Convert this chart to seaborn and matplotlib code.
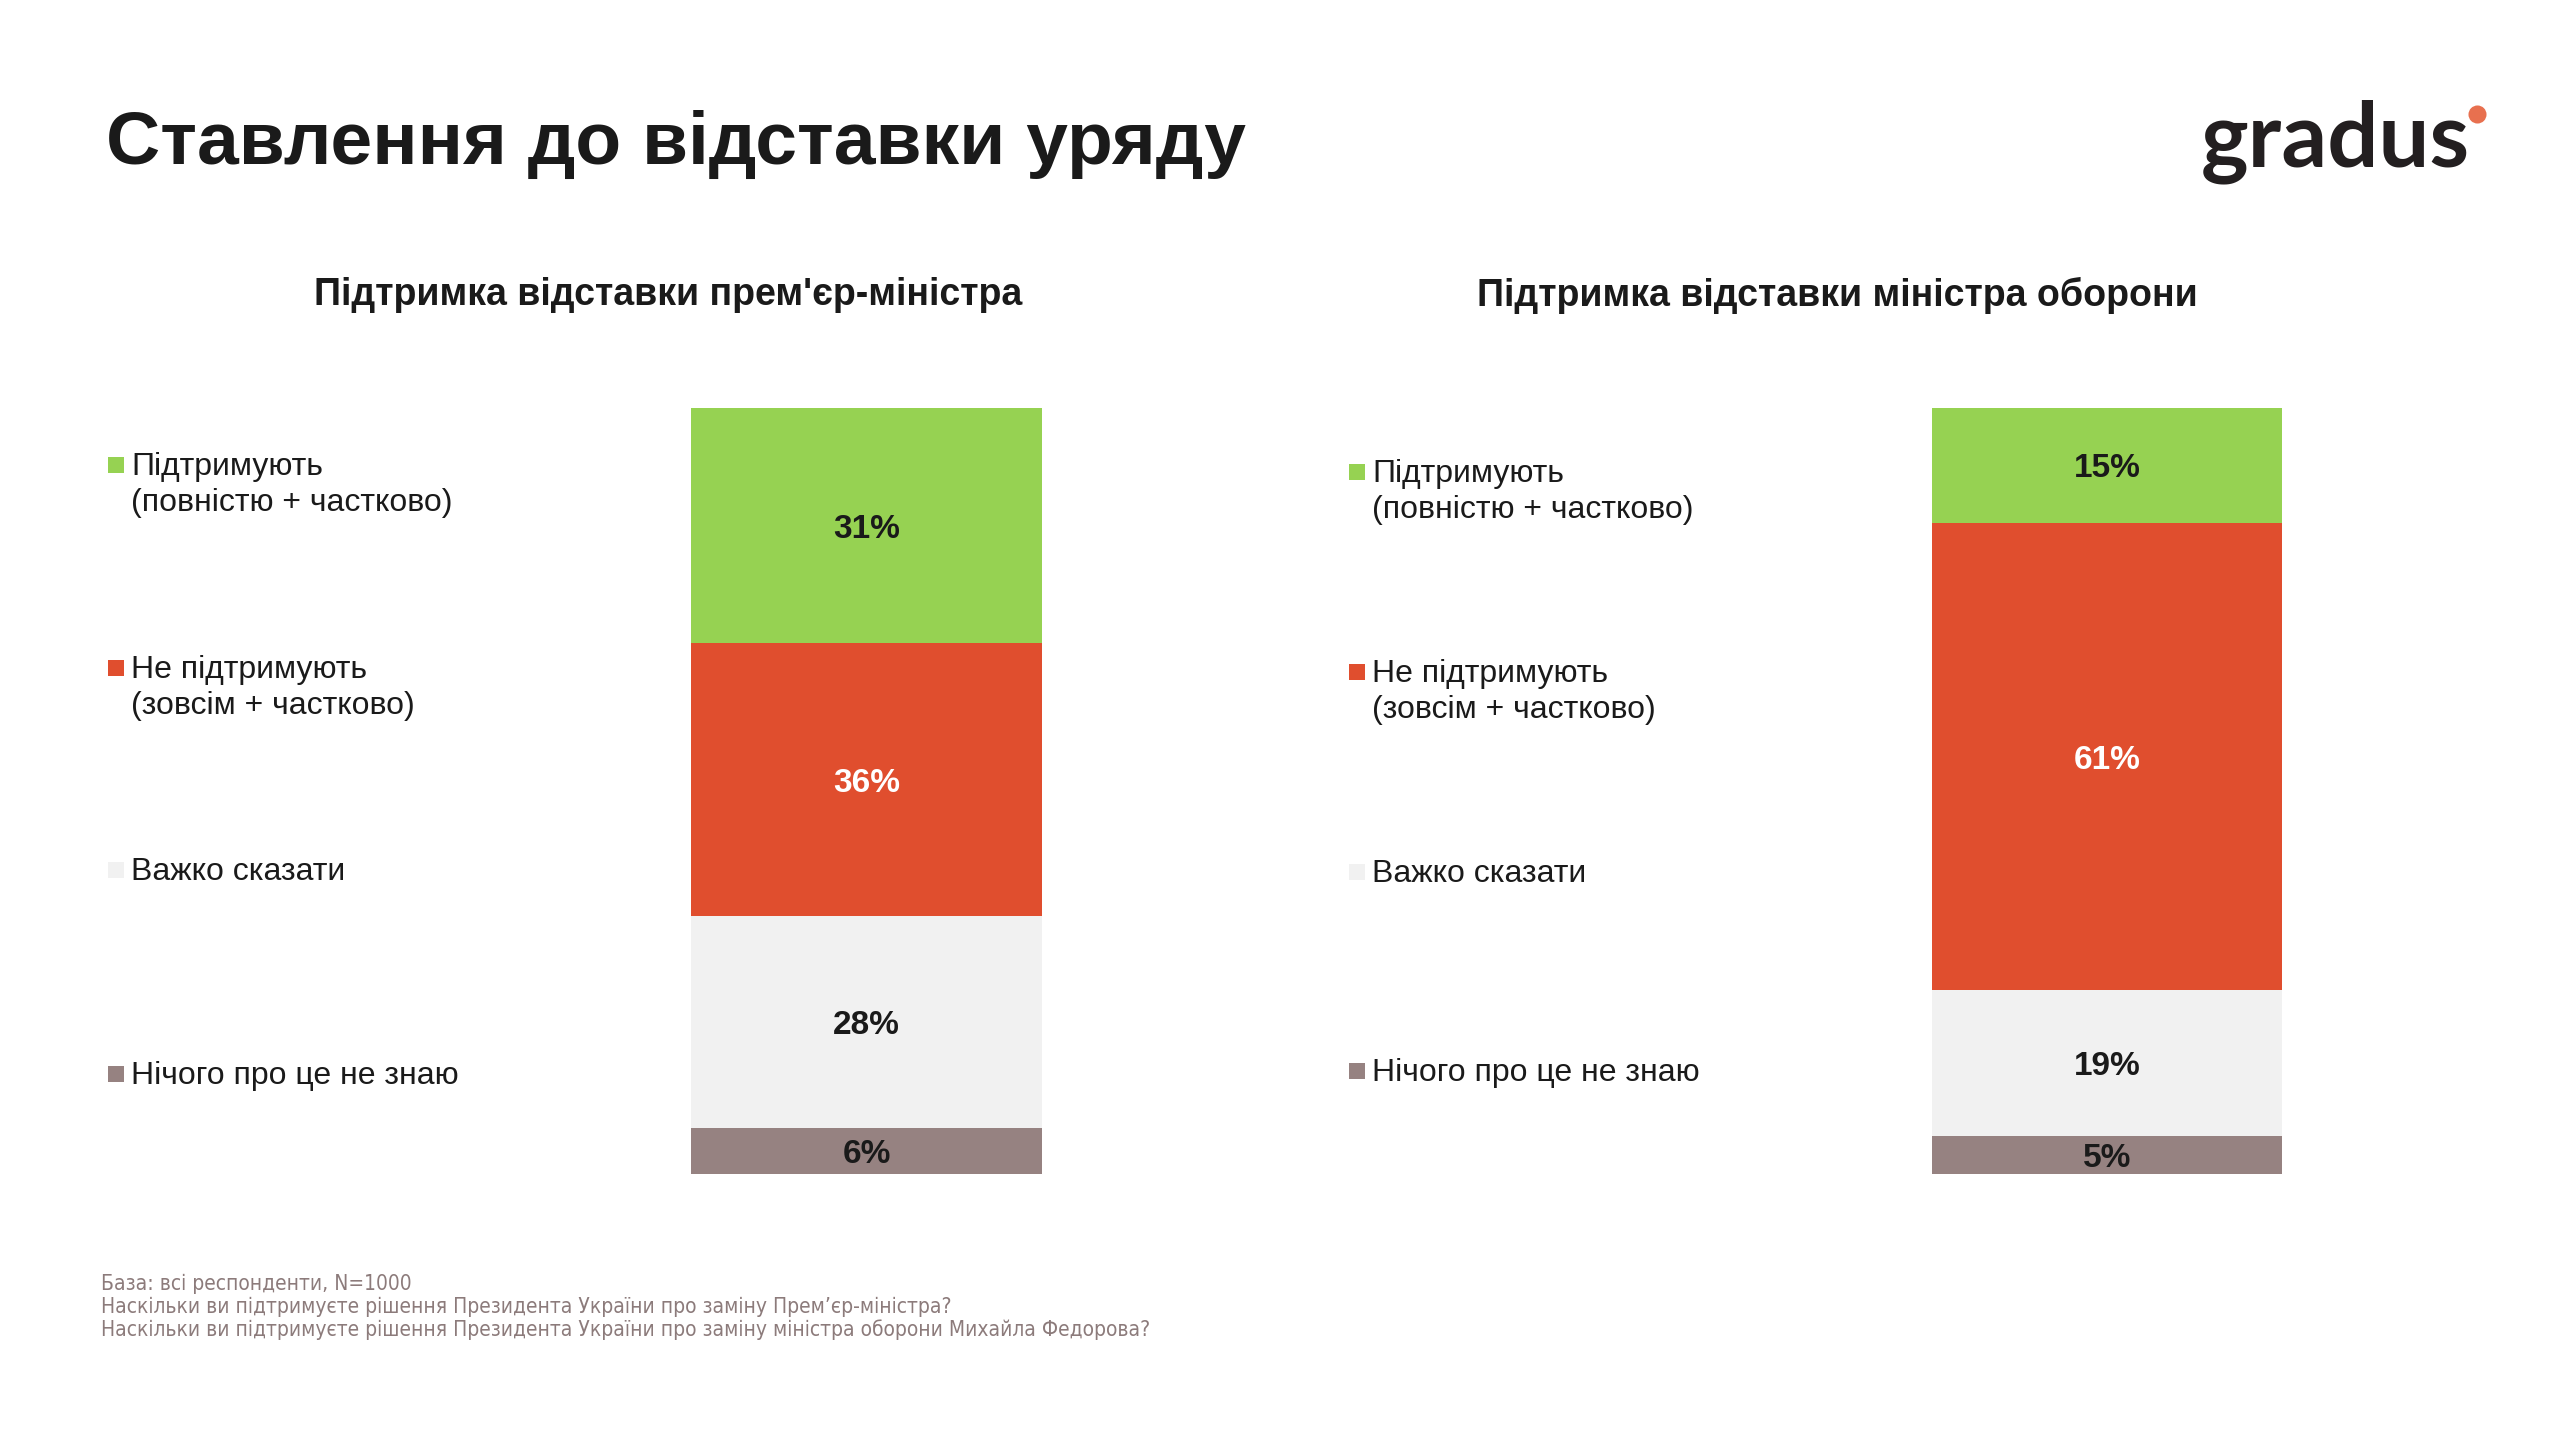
import pandas as pd
import matplotlib
matplotlib.use('Agg')
import matplotlib.pyplot as plt
import seaborn as sns
from matplotlib.patches import Rectangle
from matplotlib.lines import Line2D

sns.set_theme(style='white')
plt.rcParams['font.family'] = ['Liberation Sans', 'DejaVu Sans']

# дані
segments = ['Підтримують\n(повністю + частково)', 'Не підтримують\n(зовсім + частково)',
            'Важко сказати', 'Нічого про це не знаю']
pm_values = [31, 36, 28, 6]        # прем'єр-міністр
defense_values = [15, 61, 19, 5]   # міністр оборони
chart_titles = ["Підтримка відставки прем'єр-міністра", 'Підтримка відставки міністра оборони']
colors = ['#96D252', '#E04E2E', '#F1F1F1', '#968281']
label_colors = ['#1a1a1a', 'white', '#1a1a1a', '#1a1a1a']

title = 'Ставлення до відставки уряду'
footnotes = ['База: всі респонденти, N=1000',
             'Наскільки ви підтримуєте рішення Президента України про заміну Прем\u2019єр-міністра?',
             'Наскільки ви підтримуєте рішення Президента України про заміну міністра оборони Михайла Федорова?']

W, H = 2560, 1436
fig = plt.figure(figsize=(W / 100, H / 100), dpi=100)


def fx(px):
    return px / W


def fy(py):
    return 1 - py / H


def stacked_bar(ax, values):
    # стек знизу: останній сегмент внизу, перший зверху
    df = pd.DataFrame({'segment': segments, 'value': values, 'color': colors, 'lc': label_colors})
    df = df.iloc[::-1].reset_index(drop=True)
    df['top'] = df['value'].cumsum()
    df['mid'] = df['top'] - df['value'] / 2
    # малюємо від найвищого кумулятивного значення до найнижчого
    for _, row in df.sort_values('top', ascending=False).iterrows():
        sns.barplot(x=['bar'], y=[row['top']], color=row['color'], saturation=1,
                    width=1, linewidth=0, ax=ax)
    for _, row in df.iterrows():
        ax.text(0, row['mid'], f"{row['value']}%", ha='center', va='center_baseline',
                fontsize=24, fontweight='bold', color=row['lc'])
    ax.set_xlim(-0.5, 0.5)
    ax.set_ylim(0, df['top'].max())
    ax.axis('off')


bar_h = 1174 - 408
ax1 = fig.add_axes([fx(691), fy(1174), fx(351), bar_h / H])
ax2 = fig.add_axes([fx(1932), fy(1174), fx(350), bar_h / H])
stacked_bar(ax1, pm_values)
stacked_bar(ax2, defense_values)

# заголовки
fig.text(fx(106), fy(144), title, fontsize=54, fontweight='bold', color='#1a1a1a', va='center')
fig.text(fx(668), fy(295), chart_titles[0], fontsize=27, fontweight='bold', color='#1a1a1a',
         ha='center', va='center')
fig.text(fx(1837), fy(295), chart_titles[1], fontsize=27, fontweight='bold', color='#1a1a1a',
         ha='center', va='center')

# легенди
legend_left = [(108, [465, 668, 870, 1074]), (1349, [472, 672, 872, 1071])]
for x0, ys in legend_left:
    for seg, col, yy in zip(segments, colors, ys):
        fig.add_artist(Rectangle((fx(x0), fy(yy + 8)), fx(16), 16 / H, transform=fig.transFigure,
                                 facecolor=col, edgecolor='none'))
        fig.text(fx(x0 + 23), fy(yy - 13), seg, fontsize=23, color='#1a1a1a', va='top',
                 linespacing=1.25)

# логотип
fig.text(fx(2201), fy(166), 'gradus', fontsize=65, color='#231f20', family=['Lato', 'DejaVu Sans'],
         fontweight='bold', va='baseline')
fig.add_artist(Line2D([fx(2477)], [fy(114)], marker='o', markersize=13, color='#E8704F',
                      markeredgewidth=0, transform=fig.transFigure))

# примітки
for i, line in enumerate(footnotes):
    fig.text(fx(101), fy(1284 + i * 23), line, fontsize=15, color='#8C7B7B', va='center',
             family=['DejaVu Sans'], fontstretch='condensed')

fig.savefig('out.png', dpi=100, facecolor='white')
